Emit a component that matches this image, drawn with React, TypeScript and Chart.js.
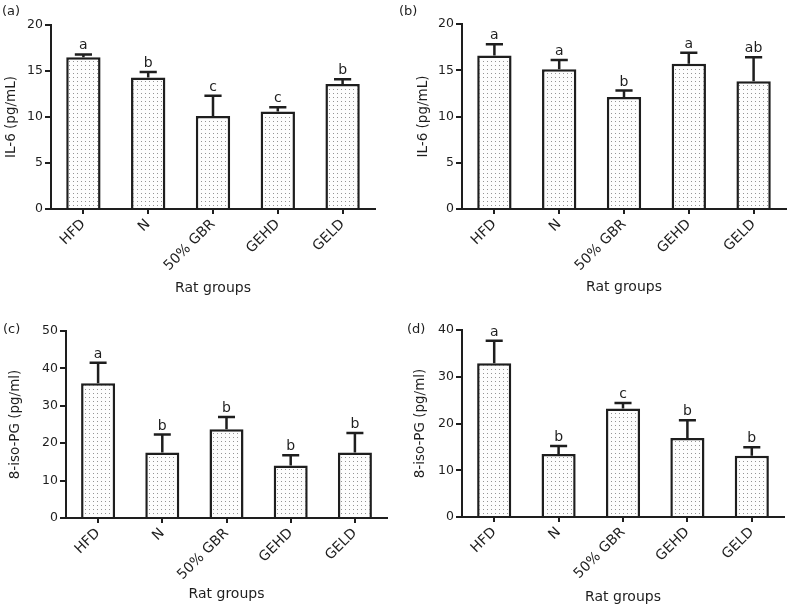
import React, { useEffect, useRef } from 'react';
import { Chart, registerables } from 'chart.js';

Chart.register(...registerables);

// ---- data ----
const categories = ['HFD', 'N', '50% GBR', 'GEHD', 'GELD'];

const il6AValues = [16.5, 14.3, 10.1, 10.6, 13.6];
const il6AErrors = [0.3, 0.6, 2.2, 0.45, 0.5];
const il6ALetters = ['a', 'b', 'c', 'c', 'b'];

const il6BValues = [16.6, 15.1, 12.1, 15.7, 13.8];
const il6BErrors = [1.2, 1.0, 0.7, 1.2, 2.6];
const il6BLetters = ['a', 'a', 'b', 'a', 'ab'];

const isoCValues = [36.0, 17.5, 23.75, 14.05, 17.5];
const isoCErrors = [5.5, 4.8, 3.25, 2.75, 5.2];
const isoCLetters = ['a', 'b', 'b', 'b', 'b'];

const isoDValues = [32.9, 13.5, 23.2, 16.9, 13.1];
const isoDErrors = [4.8, 1.7, 1.2, 3.8, 1.8];
const isoDLetters = ['a', 'b', 'c', 'b', 'b'];

const il6TickMax = 20;
const il6TickStep = 5;
const isoCTickMax = 50;
const isoDTickMax = 40;
const isoTickStep = 10;

const xTitle = 'Rat groups';
const il6Title = 'IL-6 (pg/mL)';
const isoTitle = '8-iso-PG (pg/ml)';

const FONT = "'DejaVu Sans', 'Liberation Sans', Arial, sans-serif";
const INK = '#1e1e1e';

type PanelProps = {
  tag: string;
  left: number;
  top: number;
  width: number;
  height: number;
  axisX: number;
  plotTop: number;
  plotBottom: number;
  plotRight: number;
  yTitlePad: number;
  xTitlePad: number;
  tagLeft: number;
  tagTop: number;
  values: number[];
  errors: number[];
  letters: string[];
  yMax: number;
  yStep: number;
  yTitle: string;
};

function makePattern(): CanvasPattern | string {
  const c = document.createElement('canvas');
  c.width = 4;
  c.height = 4;
  const g = c.getContext('2d');
  if (!g) return '#f0f0f0';
  g.fillStyle = '#fdfdfd';
  g.fillRect(0, 0, 4, 4);
  g.fillStyle = '#949494';
  g.fillRect(1, 1, 1, 1);
  const p = g.createPattern(c, 'repeat');
  return p || '#f0f0f0';
}

function Panel(props: PanelProps) {
  const ref = useRef<HTMLCanvasElement | null>(null);

  useEffect(() => {
    const canvas = ref.current;
    if (!canvas) return;
    const { values, errors, letters } = props;

    const errorPlugin = {
      id: 'errLetters',
      afterDatasetsDraw(chart: any) {
        const ctx = chart.ctx;
        const meta = chart.getDatasetMeta(0);
        const yScale = chart.scales.y;
        ctx.save();
        meta.data.forEach((bar: any, i: number) => {
          const x = bar.x;
          const yTop = bar.y;
          const yErr = yScale.getPixelForValue(values[i] + errors[i]);
          const capW = bar.width * 0.5;
          ctx.strokeStyle = INK;
          ctx.lineWidth = 2.5;
          ctx.beginPath();
          ctx.moveTo(x, yTop);
          ctx.lineTo(x, yErr);
          ctx.moveTo(x - capW / 2, yErr);
          ctx.lineTo(x + capW / 2, yErr);
          ctx.stroke();
          ctx.fillStyle = INK;
          ctx.font = `14px ${FONT}`;
          ctx.textAlign = 'center';
          ctx.textBaseline = 'alphabetic';
          ctx.fillText(letters[i], x, yErr - 5);
        });
        ctx.restore();
      },
    };

    const chart = new Chart(canvas, {
      type: 'bar',
      data: {
        labels: categories,
        datasets: [
          {
            data: values,
            backgroundColor: makePattern() as any,
            borderColor: INK,
            borderWidth: 2.5,
            borderSkipped: 'start',
            categoryPercentage: 1,
            barPercentage: 0.53,
          },
        ],
      },
      options: {
        responsive: false,
        animation: false,
        devicePixelRatio: 1,
        layout: {
          padding: {
            left: 0,
            top: props.plotTop,
            right: props.width - props.plotRight,
            bottom: 0,
          },
        },
        plugins: {
          legend: { display: false },
          tooltip: { enabled: false },
        },
        scales: {
          x: {
            offset: true,
            grid: {
              display: true,
              drawOnChartArea: false,
              drawTicks: true,
              offset: false,
              tickLength: 5,
              color: INK,
              lineWidth: 2,
            },
            border: { display: true, color: INK, width: 2 },
            ticks: {
              color: INK,
              font: { family: FONT, size: 14 },
              minRotation: 45,
              maxRotation: 45,
              padding: 2,
              autoSkip: false,
            },
            title: {
              display: true,
              text: xTitle,
              color: INK,
              font: { family: FONT, size: 14 },
              padding: { top: 0, bottom: props.xTitlePad },
            },
            afterFit(scale: any) {
              scale.height = props.height - props.plotBottom;
            },
          },
          y: {
            min: 0,
            max: props.yMax,
            grid: {
              display: true,
              drawOnChartArea: false,
              drawTicks: true,
              tickLength: 6,
              color: INK,
              lineWidth: 2,
            },
            border: { display: true, color: INK, width: 2 },
            ticks: {
              stepSize: props.yStep,
              color: INK,
              font: { family: FONT, size: 12.5 },
              padding: 2,
            },
            title: {
              display: true,
              text: props.yTitle,
              color: INK,
              font: { family: FONT, size: 13.5 },
              padding: { top: props.yTitlePad, bottom: 0 },
            },
            afterFit(scale: any) {
              scale.width = props.axisX;
            },
          },
        },
      },
      plugins: [errorPlugin],
    } as any);

    return () => {
      chart.destroy();
    };
  }, []);

  return (
    <>
      <canvas
        ref={ref}
        width={props.width}
        height={props.height}
        style={{
          position: 'absolute',
          left: props.left,
          top: props.top,
          width: props.width,
          height: props.height,
          display: 'block',
        }}
      />
      <span
        style={{
          position: 'absolute',
          left: props.tagLeft,
          top: props.tagTop,
          fontFamily: FONT,
          fontSize: 13,
          lineHeight: '16px',
          color: INK,
          whiteSpace: 'nowrap',
        }}
      >
        {props.tag}
      </span>
    </>
  );
}

export default function App() {
  return (
    <div
      style={{
        position: 'absolute',
        left: 0,
        top: 0,
        width: 788,
        height: 609,
        background: '#ffffff',
        overflow: 'hidden',
      }}
    >
      <Panel
        tag="(a)"
        left={0}
        top={0}
        width={394}
        height={300}
        axisX={51}
        plotTop={25}
        plotBottom={209}
        plotRight={375}
        yTitlePad={3}
        xTitlePad={3}
        tagLeft={2}
        tagTop={3}
        values={il6AValues}
        errors={il6AErrors}
        letters={il6ALetters}
        yMax={il6TickMax}
        yStep={il6TickStep}
        yTitle={il6Title}
      />
      <Panel
        tag="(b)"
        left={394}
        top={0}
        width={394}
        height={300}
        axisX={68}
        plotTop={24}
        plotBottom={209}
        plotRight={392}
        yTitlePad={21}
        xTitlePad={4}
        tagLeft={399}
        tagTop={3}
        values={il6BValues}
        errors={il6BErrors}
        letters={il6BLetters}
        yMax={il6TickMax}
        yStep={il6TickStep}
        yTitle={il6Title}
      />
      <Panel
        tag="(c)"
        left={0}
        top={300}
        width={394}
        height={309}
        axisX={66}
        plotTop={31}
        plotBottom={218}
        plotRight={387}
        yTitlePad={7}
        xTitlePad={6}
        tagLeft={3}
        tagTop={321}
        values={isoCValues}
        errors={isoCErrors}
        letters={isoCLetters}
        yMax={isoCTickMax}
        yStep={isoTickStep}
        yTitle={isoTitle}
      />
      <Panel
        tag="(d)"
        left={394}
        top={300}
        width={394}
        height={309}
        axisX={68}
        plotTop={30}
        plotBottom={217}
        plotRight={390}
        yTitlePad={18}
        xTitlePad={3}
        tagLeft={407}
        tagTop={321}
        values={isoDValues}
        errors={isoDErrors}
        letters={isoDLetters}
        yMax={isoDTickMax}
        yStep={isoTickStep}
        yTitle={isoTitle}
      />
    </div>
  );
}
